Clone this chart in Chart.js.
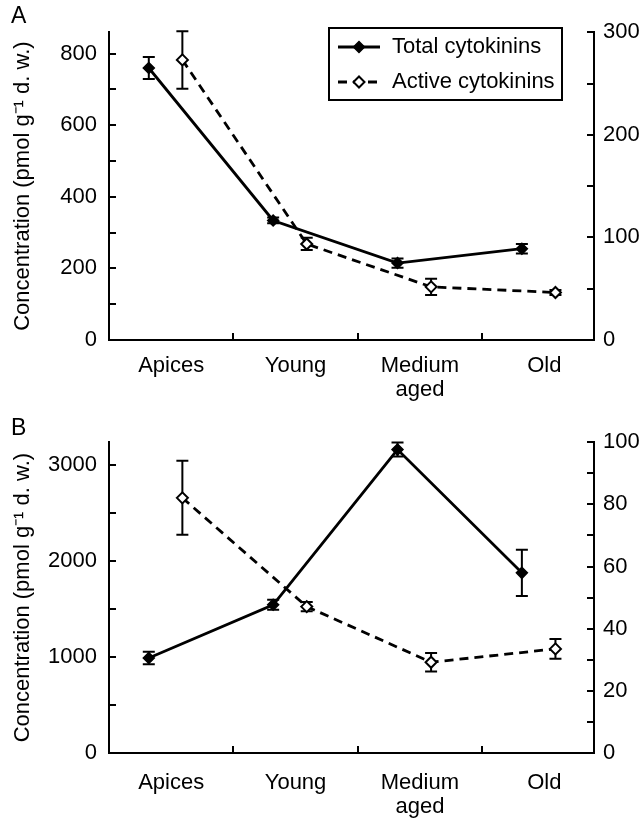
<!DOCTYPE html>
<html>
<head>
<meta charset="utf-8">
<script src="https://cdn.jsdelivr.net/npm/chart.js@4.4.0/dist/chart.umd.min.js"></script>
<style>
body { margin: 0; background: #fff; }
#wrap { position: relative; width: 641px; height: 819px; font-family: 'Liberation Sans', Arial, sans-serif; }
canvas { position: absolute; left: 0; }
.panel { position: absolute; left: 11px; font-size: 23px; line-height: 1; color: #000; }
</style>
</head>
<body>
<div id="wrap">
  <canvas id="chartA" width="641" height="410" style="top:0"></canvas>
  <canvas id="chartB" width="641" height="409" style="top:410px"></canvas>
  <div class="panel" style="top:4px">A</div>
  <div class="panel" style="top:416px">B</div>
</div>
<script>
const categories = ['Apices', 'Young', ['Medium', 'aged'], 'Old'];

// panel A
const totalA = [760, 334, 215, 255];
const totalErrA = [31, 8, 13, 13];
const activeA = [273, 93.6, 51.8, 46.3];
const activeErrA = [28, 6, 8, 2.5];
const leftTicksA = [0, 100, 200, 300, 400, 500, 600, 700, 800];
const leftLabelsA = [0, 200, 400, 600, 800];
const rightTicksA = [0, 50, 100, 150, 200, 250, 300];
const rightLabelsA = [0, 100, 200, 300];

// panel B
const totalB = [991, 1545, 3163, 1878];
const totalErrB = [65, 52, 73, 241];
const activeB = [82.1, 47.1, 29.2, 33.5];
const activeErrB = [11.9, 1.5, 3, 3.2];
const leftTicksB = [0, 500, 1000, 1500, 2000, 2500, 3000];
const leftLabelsB = [0, 1000, 2000, 3000];
const rightTicksB = [0, 10, 20, 30, 40, 50, 60, 70, 80, 90, 100];
const rightLabelsB = [0, 20, 40, 60, 80, 100];

const TOTAL_SHIFT = -0.18;
const ACTIVE_SHIFT = 0.09;
const FONT = "'Liberation Sans', Arial, sans-serif";

Chart.defaults.font.family = FONT;
Chart.defaults.font.size = 22;
Chart.defaults.color = '#000';

function series(vals, shift) {
    return vals.map((v, i) => ({ x: i + shift, y: v }));
}

// error bars drawn under the lines, from each point's own scale
const errorBars = {
    id: 'errorBars',
    beforeDatasetsDraw(chart) {
        const ctx = chart.ctx;
        chart.data.datasets.forEach((ds, i) => {
            const meta = chart.getDatasetMeta(i);
            const ys = chart.scales[ds.yAxisID];
            ctx.save();
            ctx.strokeStyle = '#000';
            ctx.lineWidth = 2;
            meta.data.forEach((pt, j) => {
                const v = ds.data[j].y, e = ds.errors[j];
                const top = ys.getPixelForValue(v + e);
                const bot = ys.getPixelForValue(v - e);
                ctx.beginPath();
                ctx.moveTo(pt.x, top); ctx.lineTo(pt.x, bot);
                ctx.moveTo(pt.x - 6, top); ctx.lineTo(pt.x + 6, top);
                ctx.moveTo(pt.x - 6, bot); ctx.lineTo(pt.x + 6, bot);
                ctx.stroke();
            });
            ctx.restore();
        });
    }
};

// boxed legend with line + marker samples
const boxLegend = {
    id: 'boxLegend',
    afterDraw(chart, args, opts) {
        if (!opts.show) return;
        const ctx = chart.ctx;
        const b = opts.box;
        ctx.save();
        ctx.fillStyle = '#fff';
        ctx.fillRect(b.x, b.y, b.w, b.h);
        ctx.strokeStyle = '#000';
        ctx.lineWidth = 2;
        ctx.strokeRect(b.x, b.y, b.w, b.h);
        chart.data.datasets.forEach((ds, i) => {
            const y = b.y + opts.rows[i];
            ctx.strokeStyle = '#000';
            ctx.lineWidth = ds.borderWidth;
            ctx.setLineDash(ds.borderDash || []);
            ctx.beginPath();
            ctx.moveTo(b.x + 9, y);
            ctx.lineTo(b.x + 51, y);
            ctx.stroke();
            ctx.setLineDash([]);
            ctx.fillStyle = ds.pointBackgroundColor;
            ctx.lineWidth = ds.pointBorderWidth;
            Chart.helpers.drawPoint(ctx, { pointStyle: 'rectRot', radius: ds.pointRadius, borderWidth: ds.pointBorderWidth, rotation: 0 }, b.x + 30, y);
            ctx.fillStyle = '#000';
            ctx.font = '22px ' + FONT;
            ctx.textBaseline = 'middle';
            ctx.fillText(ds.label, b.x + 63, y);
        });
        ctx.restore();
    }
};

function makeChart(id, o) {
    const tickGrid = {
        drawOnChartArea: false,
        tickLength: -7,
        lineWidth: 2,
        color: '#000'
    };
    return new Chart(document.getElementById(id), {
        type: 'line',
        data: {
            datasets: [
                {
                    label: 'Total cytokinins',
                    data: series(o.total, TOTAL_SHIFT),
                    errors: o.totalErr,
                    yAxisID: 'y',
                    borderColor: '#000',
                    borderWidth: 2.8,
                    pointStyle: 'rectRot',
                    pointRadius: 5.5,
                    pointBackgroundColor: '#000',
                    pointBorderColor: '#000',
                    pointBorderWidth: 1.5,
                    tension: 0
                },
                {
                    label: 'Active cytokinins',
                    data: series(o.active, ACTIVE_SHIFT),
                    errors: o.activeErr,
                    yAxisID: 'y1',
                    borderColor: '#000',
                    borderWidth: 2.8,
                    borderDash: [9, 6],
                    pointStyle: 'rectRot',
                    pointRadius: 5.5,
                    pointBackgroundColor: '#fff',
                    pointBorderColor: '#000',
                    pointBorderWidth: 2,
                    tension: 0
                }
            ]
        },
        options: {
            responsive: false,
            animation: false,
            clip: false,
            layout: { padding: { top: o.top, left: 0, right: 0, bottom: 0 } },
            plugins: {
                legend: { display: false },
                tooltip: { enabled: false },
                boxLegend: o.legend
            },
            scales: {
                x: {
                    type: 'linear',
                    min: -0.5,
                    max: 3.4,
                    afterBuildTicks: s => {
                        s.ticks = [];
                        categories.forEach((c, i) => {
                            s.ticks.push({ value: i });
                            if (i < categories.length - 1) s.ticks.push({ value: i + 0.5 });
                        });
                    },
                    afterFit: s => { s.height = o.xHeight; },
                    ticks: {
                        autoSkip: false,
                        maxRotation: 0,
                        padding: o.xPad,
                        font: { lineHeight: 1.1 },
                        callback: v => Number.isInteger(v) ? categories[v] : ''
                    },
                    grid: Object.assign({}, tickGrid, {
                        color: c => (c.tick && Number.isInteger(c.tick.value)) ? 'rgba(0,0,0,0)' : '#000'
                    }),
                    border: { color: '#000', width: 2 }
                },
                y: {
                    position: 'left',
                    min: 0,
                    max: o.leftMax,
                    afterBuildTicks: s => { s.ticks = o.leftTicks.map(v => ({ value: v })); },
                    afterFit: s => { s.width = 109; },
                    ticks: {
                        padding: 19,
                        callback: v => o.leftLabels.includes(v) ? v : ''
                    },
                    grid: tickGrid,
                    border: { color: '#000', width: 2 },
                    title: {
                        display: true,
                        text: 'Concentration (pmol g\u207B\u00B9 d. w.)',
                        font: { size: 22 },
                        padding: { top: 10, bottom: 0 }
                    }
                },
                y1: {
                    position: 'right',
                    min: 0,
                    max: o.rightMax,
                    afterBuildTicks: s => { s.ticks = o.rightTicks.map(v => ({ value: v })); },
                    afterFit: s => { s.width = 47; },
                    ticks: {
                        padding: 16,
                        callback: v => o.rightLabels.includes(v) ? v : ''
                    },
                    grid: tickGrid,
                    border: { color: '#000', width: 2 }
                }
            }
        },
        plugins: [errorBars, boxLegend]
    });
}

const chartA = makeChart('chartA', {
    total: totalA, totalErr: totalErrA, active: activeA, activeErr: activeErrA,
    leftMax: 860, leftTicks: leftTicksA, leftLabels: leftLabelsA,
    rightMax: 300, rightTicks: rightTicksA, rightLabels: rightLabelsA,
    top: 27, xHeight: 70, xPad: 21,
    legend: { show: true, box: { x: 329, y: 28, w: 233, h: 72 }, rows: [19, 54] }
});

const chartB = makeChart('chartB', {
    total: totalB, totalErr: totalErrB, active: activeB, activeErr: activeErrB,
    leftMax: 3240, leftTicks: leftTicksB, leftLabels: leftLabelsB,
    rightMax: 100, rightTicks: rightTicksB, rightLabels: rightLabelsB,
    top: 31, xHeight: 66, xPad: 25,
    legend: { show: false }
});
</script>
</body>
</html>
